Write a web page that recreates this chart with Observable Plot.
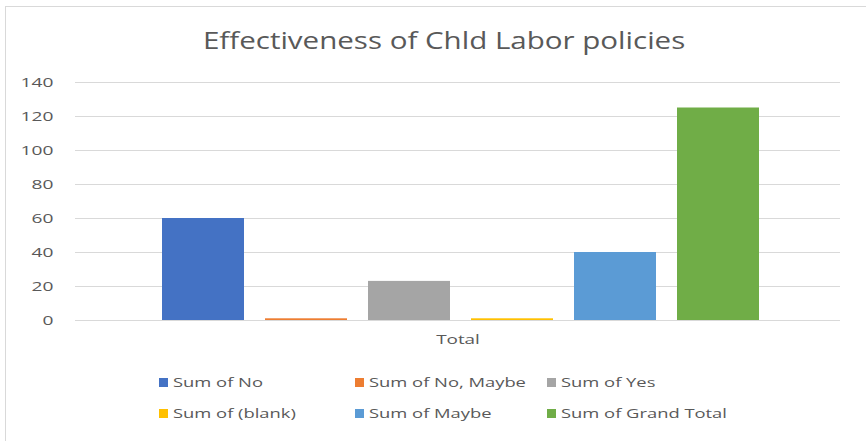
<!DOCTYPE html>
<html>
<head>
<meta charset="utf-8">
<script src="https://cdn.jsdelivr.net/npm/d3@7"></script>
<script src="https://cdn.jsdelivr.net/npm/@observablehq/plot@0.6"></script>
<style>
  html, body { margin: 0; padding: 0; background: #fff; }
  #frame {
    position: relative; width: 866px; height: 441px; overflow: hidden;
    font-family: "Open Sans", "Noto Sans", sans-serif; color: #595959;
  }
  #box {
    position: absolute; left: 5px; top: 6px; width: 880px; height: 440px;
    border: 1px solid #d9d9d9; box-sizing: border-box;
  }
  #title {
    position: absolute; left: 0; width: 888px; top: 24px; text-align: center;
    font-size: 24px; line-height: 32px; color: #595959;
  }
  #title span { display: inline-block; transform: scaleX(1.23); transform-origin: center; }
  #chart { position: absolute; left: 0; top: 65px; }
  #legend {
    position: absolute; left: 159px; top: 372px;
    display: grid; grid-template-columns: 196px 192px auto; row-gap: 11px;
    font-size: 13.5px; line-height: 20px;
  }
  .item { display: flex; align-items: center; }
  .sw { width: 9px; height: 9px; margin-right: 5px; flex: none; }
  .lt { display: inline-block; transform: scaleX(1.36); transform-origin: left center; white-space: nowrap; }
</style>
</head>
<body>
<div id="frame">
  <div id="box"></div>
  <div id="title"><span>Effectiveness of Chld Labor policies</span></div>
  <div id="chart"></div>
  <div id="legend"></div>
</div>
<script>
const series = ["Sum of No", "Sum of No, Maybe", "Sum of Yes", "Sum of (blank)", "Sum of Maybe", "Sum of Grand Total"];
const values = [60, 1, 23, 1, 40, 125];
const colors = ["#4472c4", "#ed7d31", "#a5a5a5", "#ffc000", "#5b9bd5", "#70ad47"];
const category = "Total";
const yTicks = [0, 20, 40, 60, 80, 100, 120, 140];

const data = series.map((s, i) => ({series: s, value: values[i], group: category}));

const chart = Plot.plot({
  width: 866,
  height: 295,
  marginLeft: 75,
  marginRight: 26,
  marginTop: 17,
  marginBottom: 40,
  style: {fontFamily: "'Open Sans', 'Noto Sans', sans-serif", fontSize: "13.5px", color: "#595959", background: "transparent"},
  fx: {padding: 0, label: null},
  x: {domain: series, axis: null, paddingInner: 0.2, paddingOuter: 0.81, align: 0.52},
  y: {domain: [0, 140], ticks: yTicks, label: null},
  color: {domain: series, range: colors},
  marks: [
    Plot.gridY(yTicks, {stroke: "#d9d9d9", strokeOpacity: 1, strokeWidth: 1}),
    Plot.axisY(yTicks, {tickSize: 0, tickPadding: 22, label: null, fill: "#595959", fontSize: 13.5}),
    Plot.axisFx({anchor: "bottom", tickSize: 0, tickPadding: 14, label: null, fill: "#595959", fontSize: 13.5}),
    Plot.barY(data, {fx: "group", x: "series", y: "value", fill: "series"})
  ]
});
document.getElementById("chart").appendChild(chart);

// widen axis labels to match the reference's stretched glyphs (scale about the text anchor)
function widen(selector, s, anchor) {
  d3.select(chart).selectAll(selector).each(function() {
    const b = this.getBBox();
    const ax = anchor === "end" ? b.x + b.width : b.x + b.width / 2;
    const prev = this.getAttribute("transform") || "";
    this.setAttribute("transform", `${prev} translate(${ax},0) scale(${s},1) translate(${-ax},0)`);
  });
}
widen('g[aria-label="y-axis tick label"] text', 1.42, "end");
widen('g[aria-label="fx-axis tick label"] text', 1.4, "middle");

const legend = document.getElementById("legend");
series.forEach((s, i) => {
  const item = document.createElement("div");
  item.className = "item";
  const sw = document.createElement("span");
  sw.className = "sw";
  sw.style.background = colors[i];
  const t = document.createElement("span");
  t.className = "lt";
  t.textContent = s;
  item.appendChild(sw);
  item.appendChild(t);
  legend.appendChild(item);
});
</script>
</body>
</html>
